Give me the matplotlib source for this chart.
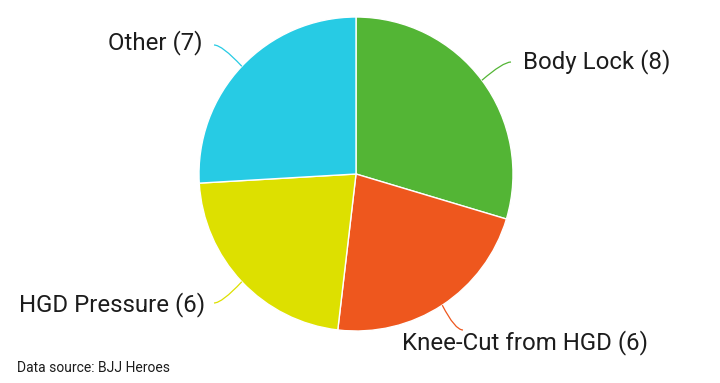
import numpy as np
import matplotlib
matplotlib.use("Agg")
import matplotlib.pyplot as plt
from matplotlib.path import Path
from matplotlib.patches import PathPatch

labels = ["Body Lock", "Knee-Cut from HGD", "HGD Pressure", "Other"]
counts = [8, 6, 6, 7]
colors = ["#53b535", "#ee571e", "#dde000", "#27cbe4"]

W, H = 720, 383
CX, CY, R = 356, 174, 157  # pie centre and radius in pixels

fig = plt.figure(figsize=(W / 100, H / 100), dpi=100)
ax = fig.add_axes([0, 0, 1, 1])

wedges, _ = ax.pie(counts, colors=colors, startangle=90, counterclock=False,
                   radius=1.0, center=(0, 0), frame=True,
                   wedgeprops=dict(edgecolor="white", linewidth=1.0))
ax.set_xlim(-CX / R, (W - CX) / R)
ax.set_ylim(-(H - CY) / R, CY / R)
ax.set_aspect("auto")
ax.axis("off")


def px(x, y):
    return (x - CX) / R, (CY - y) / R


# label layout: connector end point (pixels), text anchor (pixels), alignment
layout = [
    dict(end=(511, 62), text=(523, 62), ha="left"),
    dict(end=(463, 330), text=(402, 343), ha="left"),
    dict(end=(214, 303), text=(205, 305), ha="right"),
    dict(end=(214, 45), text=(202, 43), ha="right"),
]

font = "Roboto"
for w, lab, n, col, lay in zip(wedges, labels, counts, colors, layout):
    mid = np.deg2rad((w.theta1 + w.theta2) / 2)
    sx, sy = np.cos(mid), np.sin(mid)
    ex, ey = px(*lay["end"])
    side = 1 if ex > sx else -1
    cx_, cy_ = ex - side * 8 / R, ey
    path = Path([(sx, sy), (cx_, cy_), (ex, ey)],
                [Path.MOVETO, Path.CURVE3, Path.CURVE3])
    ax.add_patch(PathPatch(path, fill=False, edgecolor=col, linewidth=0.9))
    tx, ty = px(*lay["text"])
    ax.text(tx, ty, f"{lab} ({n})", ha=lay["ha"], va="center",
            fontsize=17.3, family=font, color="#1c1c1c")

tx, ty = px(17, 368)
ax.text(tx, ty, "Data source: BJJ Heroes", ha="left", va="center",
        fontsize=10, family=font, color="#1c1c1c")

fig.savefig("out.png", dpi=100, facecolor="white")
